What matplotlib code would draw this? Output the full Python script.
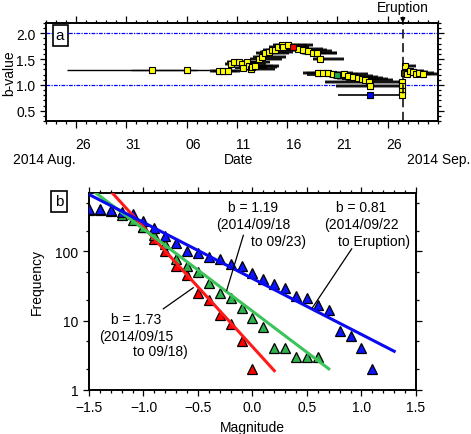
import numpy as np
import matplotlib
matplotlib.use('Agg')
import matplotlib.pyplot as plt

plt.rcParams['font.family'] = ['Liberation Sans', 'DejaVu Sans']
plt.rcParams['font.size'] = 10

# ---- panel a: b-value vs time (days counted from 2014-08-31 00:00)
t_day = [2.57, 6.0, 9.2, 9.6, 10.1, 10.4, 10.7, 11.2, 11.5, 11.6, 12.0, 12.2, 12.4, 12.5,
         12.8, 13.2, 13.5, 13.8, 14.2, 14.5, 14.8, 15.1, 15.5, 15.6, 16.1, 17.1, 17.6,
         18.1, 18.6, 19.0, 19.25, 19.1, 19.6, 20.1, 20.6, 21.6, 22.0, 22.5, 23.0, 23.4,
         23.7, 24.1, 24.2, 27.45, 27.45, 27.45, 27.45, 27.6, 27.7, 27.9, 28.2, 28.5,
         28.8, 29.1, 29.55]
b_val = [1.28, 1.28, 1.26, 1.26, 1.26, 1.41, 1.44, 1.44, 1.41, 1.33, 1.44, 1.37, 1.30, 1.34,
         1.36, 1.51, 1.54, 1.61, 1.64, 1.67, 1.67, 1.74, 1.77, 1.74, 1.78, 1.70, 1.67,
         1.65, 1.62, 1.61, 1.51, 1.23, 1.24, 1.23, 1.21, 1.21, 1.18, 1.16, 1.14, 1.12,
         1.10, 1.05, 0.97, 1.05, 0.97, 0.88, 0.80, 1.24, 1.36, 1.22, 1.27, 1.25,
         1.22, 1.24, 1.21]
# time window of each estimate (start, end)
t_lo = [-5.9, 0.5, 8.3, 8.6, 9.0, 9.8, 10.0, 10.4, 10.6, 10.8, 11.2, 11.4, 11.6, 11.7,
        12.0, 12.3, 12.6, 12.9, 13.3, 13.6, 13.9, 14.2, 14.6, 14.8, 15.2, 16.0, 16.5,
        17.0, 17.5, 18.0, 18.6, 17.6, 18.0, 18.5, 19.0, 19.8, 20.2, 20.6, 21.0, 21.4,
        21.8, 19.8, 20.9, 27.0, 27.1, 27.2, 27.2, 27.3, 27.4, 27.5, 27.6, 27.8,
        28.0, 28.2, 28.5]
t_hi = [7.0, 9.0, 10.6, 11.0, 11.3, 12.6, 13.0, 13.4, 13.9, 14.0, 14.3, 14.6, 14.8, 15.0,
        15.2, 15.5, 15.9, 16.2, 16.6, 17.0, 17.3, 17.6, 18.0, 18.2, 18.6, 19.6, 20.0,
        20.5, 21.0, 21.0, 21.6, 21.2, 22.0, 22.5, 23.0, 24.0, 24.5, 25.0, 25.5, 26.0,
        26.5, 27.3, 27.4, 27.8, 27.8, 27.7, 27.7, 28.6, 28.8, 29.2, 29.6, 30.0,
        30.3, 30.6, 31.0]
b_err = 0.05

# highlighted windows used in panel b
hl_day = [16.55, 21.0, 24.25]
hl_b = [1.74, 1.19, 0.80]
hl_lo = [15.5, 18.0, 21.1]
hl_hi = [18.2, 23.0, 27.4]
hl_col = ['#ff0000', '#1daa4a', '#0000ff']

eruption_day = 27.5
day_ticks = [-5, 0, 6, 11, 16, 21, 26]
day_labels = ['26', '31', '06', '11', '16', '21', '26']

# ---- panel b: frequency-magnitude distributions
blue_M = [-1.5, -1.4, -1.3, -1.2, -1.1, -1.0, -0.9, -0.8, -0.7, -0.6, -0.5, -0.4, -0.3, -0.2,
          -0.1, 0.0, 0.1, 0.2, 0.3, 0.4, 0.5, 0.6, 0.7, 0.8, 0.9, 1.0, 1.1]
blue_N = [415, 415, 402, 372, 352, 276, 218, 167, 132, 103, 95, 83, 78, 66,
          61, 49, 40, 34, 30, 23, 21, 17, 14, 7, 6, 4, 2]
green_M = [-1.5, -1.4, -1.3, -1.2, -1.1, -1.0, -0.9, -0.8, -0.7, -0.6, -0.5, -0.4, -0.3, -0.2,
           -0.1, 0.0, 0.1, 0.2, 0.3, 0.4, 0.5, 0.6]
green_N = [400, 400, 390, 340, 285, 226, 171, 129, 78, 61, 50, 35, 25, 21,
           15, 11, 8, 4, 4, 3, 3, 3]
red_M = [-1.0, -0.9, -0.8, -0.7, -0.6, -0.5, -0.4, -0.3, -0.2, -0.1, 0.0]
red_N = [225, 150, 103, 61, 45, 25, 20, 12, 9, 5, 2]

# Gutenberg-Richter fits: log10 N = a - b M
fits = [
    dict(a=0.621, b=1.73, m0=-1.40, m1=0.20, col='#ff1a1a'),
    dict(a=1.135, b=1.19, m0=-1.55, m1=0.70, col='#3cc35a'),
    dict(a=1.609, b=0.81, m0=-1.50, m1=1.30, col='#0a0af0'),
]

fig = plt.figure(figsize=(4.71, 4.35), dpi=100)
axa = fig.add_axes([46/471, 1-122/435, 392/471, 98/435])
axb = fig.add_axes([89/471, 1-390.7/435, 327/471, 196.7/435])

for ax in (axa, axb):
    for s in ax.spines.values():
        s.set_linewidth(1.4)
    ax.tick_params(which='both', direction='out', top=True, right=True,
                   labeltop=False, labelright=False, width=0.9)
    ax.tick_params(which='major', length=4)
    ax.tick_params(which='minor', length=2)

# panel a
axa.axhline(1.0, color='#0000ff', lw=0.9, ls=(0, (3, 1, 1, 1)), zorder=1)
axa.axhline(2.0, color='#0000ff', lw=0.9, ls=(0, (3, 1, 1, 1)), zorder=1)
axa.hlines(b_val[:2], t_lo[:2], t_hi[:2], color='k', lw=1.0, zorder=2)
axa.hlines(b_val[2:], t_lo[2:], t_hi[2:], color='#777777', lw=2.6, zorder=2)
axa.hlines(b_val[2:], t_lo[2:], t_hi[2:], color='k', lw=1.2, zorder=2)
axa.errorbar(t_day, b_val, yerr=b_err, fmt='s', ms=4.5, mfc='#ffff00', mec='k', mew=0.8,
             ecolor='k', elinewidth=0.9, capsize=2.2, zorder=3)
axa.hlines(hl_b, hl_lo, hl_hi, color='k', lw=1.2, zorder=2)
for d, b, c in zip(hl_day, hl_b, hl_col):
    axa.errorbar(d, b, yerr=b_err, fmt='s', ms=4.5, mfc=c, mec='k', mew=0.8,
                 ecolor='k', elinewidth=0.9, capsize=2.2, zorder=4)
axa.axvline(eruption_day, color='k', lw=1.1, ls=(0, (6, 3)), zorder=5)
axa.annotate('Eruption', xy=(eruption_day, 1.0), xycoords=('data', 'axes fraction'),
             xytext=(eruption_day, 1.09), textcoords=('data', 'axes fraction'),
             ha='center', va='bottom', annotation_clip=False,
             arrowprops=dict(arrowstyle='-|>', color='k', lw=0.9,
                             mutation_scale=7, shrinkA=0, shrinkB=0))

axa.set_xlim(-8, 31)
axa.set_ylim(0.3, 2.2)
axa.set_xticks(day_ticks)
axa.set_xticklabels([])
axa.set_xticks(np.arange(-8, 32), minor=True)
axa.set_yticks([0.5, 1.0, 1.5, 2.0])
axa.set_yticklabels(['0.5', '1.0', '1.5', '2.0'])
axa.set_yticks(np.arange(0.3, 2.21, 0.1), minor=True)
axa.tick_params(axis='x', which='major', length=5)
for d, lab in zip(day_ticks, day_labels):
    axa.text(d + 0.65, -0.235, lab, transform=axa.get_xaxis_transform(),
             ha='center', va='center')
axa.set_ylabel('b-value')
axa.yaxis.set_label_coords(-0.076, 0.5)
axa.text(0.036, 0.875, 'a', transform=axa.transAxes, ha='center', va='center',
         fontsize=11, bbox=dict(boxstyle='square,pad=0.22', fc='white', ec='k', lw=1.2))

fig.text(13/471, 1-160/435, '2014 Aug.', ha='left', va='center')
fig.text(239/471, 1-160/435, 'Date', ha='center', va='center')
fig.text(470/471, 1-160/435, '2014 Sep.', ha='right', va='center')

# panel b
axb.plot(red_M, red_N, '^', ms=7.5, mfc='#ff0000', mec='k', mew=0.9, ls='none', zorder=3)
axb.plot(green_M, green_N, '^', ms=7.5, mfc='#2db34a', mec='k', mew=0.9, ls='none', zorder=3)
axb.plot(blue_M, blue_N, '^', ms=7.5, mfc='#0a14ff', mec='k', mew=0.9, ls='none', zorder=3)
for f in fits:
    m = np.array([f['m0'], f['m1']])
    axb.plot(m, 10 ** (f['a'] - f['b'] * m), color=f['col'], lw=2.2, zorder=4)

axb.set_xlim(-1.5, 1.5)
axb.set_yscale('log')
axb.set_ylim(1, 700)
axb.set_xticks([-1.5, -1.0, -0.5, 0.0, 0.5, 1.0, 1.5])
axb.set_xticklabels(['\u22121.5', '\u22121.0', '\u22120.5', '0.0', '0.5', '1.0', '1.5'])
axb.set_xticks(np.arange(-1.5, 1.51, 0.1), minor=True)
axb.set_yticks([1, 10, 100])
axb.set_yticklabels(['1', '10', '100'])
axb.set_yticks([2, 5, 20, 50, 200, 500], minor=True)
axb.set_yticklabels([], minor=True)
axb.set_xlabel('Magnitude')
axb.xaxis.set_label_coords(0.5, -0.152)
axb.set_ylabel('Frequency')
axb.yaxis.set_label_coords(-0.138, 0.553)
fig.text(59/471, 1-202.5/435, 'b', ha='center', va='center', fontsize=11,
         bbox=dict(boxstyle='square,pad=0.22', fc='white', ec='k', lw=1.2))

def ax_xy(px, py):
    return ((px - 89) / 327, (390.7 - py) / 196.7)

notes = [
    ('b = 1.73', 136, 320), ('(2014/09/15', 136, 336.7), ('to 09/18)', 160.5, 351.7),
    ('b = 1.19', 253.3, 208.3), ('(2014/09/18', 253.3, 225), ('to 09/23)', 278.7, 241.7),
    ('b = 0.81', 360.8, 208.3), ('(2014/09/22', 361.3, 225), ('to Eruption)', 374.5, 241.7),
]
for s, px, py in notes:
    x, y = ax_xy(px, py)
    axb.text(x, y, s, transform=axb.transAxes, ha='center', va='center', zorder=6)

leaders = [((-0.818, 14.8), (-0.544, 29.8)),
           ((-0.084, 171), (-0.237, 27.2)),
           ((0.91, 109), (0.549, 15.3))]
for (m0, n0), (m1, n1) in leaders:
    axb.plot([m0, m1], [n0, n1], color='k', lw=0.9, zorder=5)

fig.savefig('out.png', dpi=100)
